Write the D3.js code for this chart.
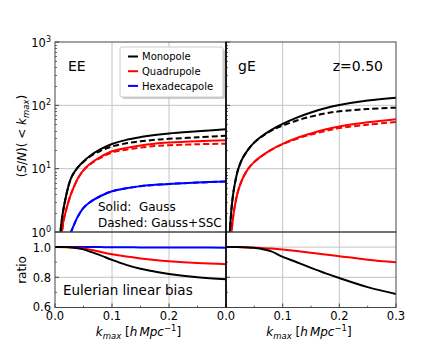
<!DOCTYPE html>
<html>
<head>
<meta charset="utf-8">
<script src="https://cdn.jsdelivr.net/npm/d3@7"></script>
<style>
  html, body { margin: 0; padding: 0; background: #fff; }
  svg { display: block; font-family: "DejaVu Sans", sans-serif; }
</style>
</head>
<body>
<svg id="chart" width="440" height="352"></svg>
<script>
// k grid for the cumulative S/N curves (h/Mpc)
const kGrid = [0.005, 0.008, 0.01, 0.0125, 0.015, 0.02, 0.025, 0.03, 0.04, 0.05, 0.06, 0.08, 0.1, 0.125, 0.15, 0.175, 0.2, 0.25, 0.3]

// EE panel
const eeMonoGauss = [0.4, 0.75, 1.1, 1.7, 2.35, 3.9, 5.9, 7.7, 10.5, 13.0, 15.6, 20.3, 24.5, 28.5, 31.5, 34, 36, 39, 42]
const eeMonoSSC = [0.4, 0.75, 1.1, 1.7, 2.35, 3.9, 5.9, 7.7, 10.45, 12.8, 15.2, 19.2, 22.4, 25.1, 27.0, 28.5, 29.6, 31.2, 33]
const eeQuadGauss = [0.3, 0.6, 0.8, 1.05, 1.5, 2.3, 3.3, 4.4, 7, 9.5, 11.6, 15.3, 18.8, 21.3, 23.3, 24.8, 25.8, 27.2, 28.2]
const eeQuadSSC = [0.3, 0.6, 0.8, 1.05, 1.5, 2.3, 3.3, 4.4, 6.95, 9.4, 11.4, 14.8, 17.9, 19.9, 21.5, 22.7, 23.4, 24.3, 24.8]
const eeHexaGauss = [0.1, 0.2, 0.25, 0.3, 0.4, 0.6, 0.85, 1.1, 1.75, 2.4, 2.9, 3.7, 4.4, 4.9, 5.3, 5.55, 5.75, 6.05, 6.3]
const eeHexaSSC = [0.1, 0.2, 0.25, 0.3, 0.4, 0.6, 0.85, 1.1, 1.75, 2.4, 2.9, 3.7, 4.4, 4.9, 5.29, 5.54, 5.74, 6.03, 6.28]

// gE panel
const geMonoGauss = [0.6, 1.5, 2.5, 3.9, 5.4, 8.8, 12, 15, 20.5, 26, 31, 41, 51, 64, 77, 90, 101, 119, 132]
const geMonoSSC = [0.6, 1.5, 2.5, 3.9, 5.4, 8.8, 12, 15, 20.5, 25.9, 30.7, 39.8, 47.7, 57.6, 66.4, 74.5, 80.3, 87.5, 92]
const geQuadGauss = [0.3, 0.7, 1.05, 1.7, 2.4, 4, 5.6, 7.2, 10.2, 12.8, 15.2, 20, 24.7, 30.5, 36, 41.5, 46.5, 54, 60.5]
const geQuadSSC = [0.3, 0.7, 1.05, 1.7, 2.4, 4, 5.6, 7.2, 10.2, 12.75, 15.1, 19.8, 24.3, 29.6, 34.6, 39.3, 43.7, 49.5, 54.5]

// ratio panels (Gauss+SSC / Gauss)
const kRatio = [0, 0.02, 0.04, 0.05, 0.06, 0.08, 0.1, 0.125, 0.15, 0.175, 0.2, 0.25, 0.3]
const eeMonoRatio = [1, 1, 0.993, 0.985, 0.972, 0.945, 0.915, 0.882, 0.857, 0.838, 0.822, 0.8, 0.787]
const eeQuadRatio = [1, 0.999, 0.994, 0.99, 0.984, 0.968, 0.952, 0.937, 0.925, 0.915, 0.907, 0.895, 0.887]
const eeHexaRatio = [1, 1, 1, 1, 1, 1, 0.999, 0.999, 0.998, 0.998, 0.997, 0.997, 0.996]
const geMonoRatio = [1, 1, 0.998, 0.995, 0.99, 0.972, 0.935, 0.9, 0.862, 0.828, 0.795, 0.735, 0.69]
const geQuadRatio = [1, 1, 0.998, 0.996, 0.994, 0.99, 0.984, 0.974, 0.962, 0.951, 0.94, 0.917, 0.9]

const xTicks = [0, 0.1, 0.2, 0.3]
const logTicks = [1, 10, 100, 1000]
const ratioTicks = [0.6, 0.8, 1.0]

const svg = d3.select('#chart')
const spine = '#444'
const gridCol = '#c4c4c4'

const top0 = 42, top1 = 232, bot1 = 307.5
const panels = [
  { id: 'ee', x0: 55, x1: 226 },
  { id: 'ge', x0: 226, x1: 396 }
]

const yLog = d3.scaleLog().domain([1, 1000]).range([top1, top0])
const yRatio = d3.scaleLinear().domain([0.6, 1.1]).range([bot1, top1])

const defs = svg.append('defs')

panels.forEach(function (p) {
  p.x = d3.scaleLinear().domain([0, 0.3]).range([p.x0, p.x1])
  defs.append('clipPath').attr('id', 'clipTop-' + p.id)
    .append('rect').attr('x', p.x0).attr('y', top0).attr('width', p.x1 - p.x0).attr('height', top1 - top0)
  defs.append('clipPath').attr('id', 'clipBot-' + p.id)
    .append('rect').attr('x', p.x0).attr('y', top1).attr('width', p.x1 - p.x0).attr('height', bot1 - top1)

  const g = svg.append('g')
  // grid lines
  g.selectAll('.vgrid').data([0.1, 0.2]).enter().append('line')
    .attr('x1', d => p.x(d)).attr('x2', d => p.x(d)).attr('y1', top0).attr('y2', bot1)
    .attr('stroke', gridCol).attr('stroke-width', 1)
  g.selectAll('.hgrid').data([10, 100]).enter().append('line')
    .attr('x1', p.x0).attr('x2', p.x1).attr('y1', d => yLog(d)).attr('y2', d => yLog(d))
    .attr('stroke', gridCol).attr('stroke-width', 1)
  g.selectAll('.rgrid').data([0.8, 1.0]).enter().append('line')
    .attr('x1', p.x0).attr('x2', p.x1).attr('y1', d => yRatio(d)).attr('y2', d => yRatio(d))
    .attr('stroke', gridCol).attr('stroke-width', 1)

  // minor + major ticks, inward
  const logMinor = []
  for (let e = 0; e < 3; e++) for (let m = 2; m < 10; m++) logMinor.push(m * Math.pow(10, e))
  g.selectAll('.lmin').data(logMinor).enter().append('line')
    .attr('x1', p.x0).attr('x2', p.x0 + 2).attr('y1', d => Math.round(yLog(d)) + 0.5).attr('y2', d => Math.round(yLog(d)) + 0.5)
    .attr('stroke', spine).attr('stroke-width', 0.8)
  g.selectAll('.lmaj').data(logTicks).enter().append('line')
    .attr('x1', p.x0).attr('x2', p.x0 + 4).attr('y1', d => yLog(d)).attr('y2', d => yLog(d))
    .attr('stroke', spine).attr('stroke-width', 1)
  g.selectAll('.rmin').data([0.7, 0.9]).enter().append('line')
    .attr('x1', p.x0).attr('x2', p.x0 + 2).attr('y1', d => yRatio(d)).attr('y2', d => yRatio(d))
    .attr('stroke', spine).attr('stroke-width', 0.8)
  g.selectAll('.rmaj').data(ratioTicks).enter().append('line')
    .attr('x1', p.x0).attr('x2', p.x0 + 4).attr('y1', d => yRatio(d)).attr('y2', d => yRatio(d))
    .attr('stroke', spine).attr('stroke-width', 1)
  g.selectAll('.xmin').data([0.05, 0.15, 0.25]).enter().append('line')
    .attr('x1', d => p.x(d)).attr('x2', d => p.x(d)).attr('y1', bot1).attr('y2', bot1 - 2)
    .attr('stroke', spine).attr('stroke-width', 0.8)
  g.selectAll('.xmaj').data(xTicks).enter().append('line')
    .attr('x1', d => p.x(d)).attr('x2', d => p.x(d)).attr('y1', bot1).attr('y2', bot1 - 4)
    .attr('stroke', spine).attr('stroke-width', 1)

  // x tick labels (left panel drops its last one; the right panel's 0.0 sits there)
  const labs = p.id === 'ee' ? xTicks.slice(0, 3) : xTicks
  g.selectAll('.xlab').data(labs).enter().append('text')
    .attr('x', d => p.x(d)).attr('y', 320)
    .attr('text-anchor', 'middle').attr('font-size', 11.5).attr('fill', '#000')
    .text(d => d.toFixed(1))

  // x axis label
  const xl = g.append('text').attr('x', (p.x0 + p.x1) / 2 - 2).attr('y', 336)
    .attr('text-anchor', 'middle').attr('font-size', 12).attr('fill', '#000')
  xl.append('tspan').attr('font-style', 'italic').text('k')
  xl.append('tspan').attr('font-style', 'italic').attr('font-size', 8.5).attr('dy', 3).text('max')
  xl.append('tspan').attr('dy', -3).text(' [')
  xl.append('tspan').attr('font-style', 'italic').text('h')
  xl.append('tspan').attr('font-style', 'italic').attr('dx', 2).text('Mpc')
  xl.append('tspan').attr('font-size', 8.5).attr('dy', -5).text('\u22121')
  xl.append('tspan').attr('dy', 5).text(']')
})

const line = function (xs, ys, xScale, yScale) {
  return d3.line().curve(d3.curveCatmullRom.alpha(0.5))
    .x((d, i) => xScale(xs[i])).y(d => yScale(Math.max(d, 0.05)))(ys)
}

function drawCurve (p, clip, xs, ys, yScale, color, dashed) {
  svg.append('path')
    .attr('clip-path', 'url(#' + clip + '-' + p.id + ')')
    .attr('d', line(xs, ys, p.x, yScale))
    .attr('fill', 'none').attr('stroke', color).attr('stroke-width', 2)
    .attr('stroke-dasharray', dashed ? '6,3' : null)
}

const ee = panels[0], ge = panels[1]
drawCurve(ee, 'clipTop', kGrid, eeHexaSSC, yLog, '#0000ff', true)
drawCurve(ee, 'clipTop', kGrid, eeHexaGauss, yLog, '#0000ff', false)
drawCurve(ee, 'clipTop', kGrid, eeQuadSSC, yLog, '#ff0000', true)
drawCurve(ee, 'clipTop', kGrid, eeQuadGauss, yLog, '#ff0000', false)
drawCurve(ee, 'clipTop', kGrid, eeMonoSSC, yLog, '#000000', true)
drawCurve(ee, 'clipTop', kGrid, eeMonoGauss, yLog, '#000000', false)
drawCurve(ge, 'clipTop', kGrid, geQuadSSC, yLog, '#ff0000', true)
drawCurve(ge, 'clipTop', kGrid, geQuadGauss, yLog, '#ff0000', false)
drawCurve(ge, 'clipTop', kGrid, geMonoSSC, yLog, '#000000', true)
drawCurve(ge, 'clipTop', kGrid, geMonoGauss, yLog, '#000000', false)

drawCurve(ee, 'clipBot', kRatio, eeHexaRatio, yRatio, '#0000ff', false)
drawCurve(ee, 'clipBot', kRatio, eeQuadRatio, yRatio, '#ff0000', false)
drawCurve(ee, 'clipBot', kRatio, eeMonoRatio, yRatio, '#000000', false)
drawCurve(ge, 'clipBot', kRatio, geQuadRatio, yRatio, '#ff0000', false)
drawCurve(ge, 'clipBot', kRatio, geMonoRatio, yRatio, '#000000', false)

// frames
panels.forEach(function (p) {
  svg.append('rect').attr('x', p.x0).attr('y', top0).attr('width', p.x1 - p.x0).attr('height', top1 - top0)
    .attr('fill', 'none').attr('stroke', spine).attr('stroke-width', 1)
  svg.append('rect').attr('x', p.x0).attr('y', top1).attr('width', p.x1 - p.x0).attr('height', bot1 - top1)
    .attr('fill', 'none').attr('stroke', spine).attr('stroke-width', 1)
})
svg.append('line').attr('x1', 226).attr('x2', 226).attr('y1', top0).attr('y2', bot1)
  .attr('stroke', '#000').attr('stroke-width', 1.5)

// y tick labels, left panel only
const ylab = svg.append('g')
ylab.selectAll('.lt').data(logTicks).enter().append('text')
  .attr('x', 51).attr('y', d => yLog(d) + 4.5)
  .attr('text-anchor', 'end').attr('font-size', 11.5).attr('fill', '#000')
  .each(function (d) {
    const t = d3.select(this)
    t.append('tspan').text('10')
    t.append('tspan').attr('font-size', 8).attr('dy', -5).text(Math.round(Math.log10(d)))
  })
ylab.selectAll('.rt').data(ratioTicks).enter().append('text')
  .attr('x', 51).attr('y', d => yRatio(d) + (d === 0.6 ? 3 : 4.5))
  .attr('text-anchor', 'end').attr('font-size', 11.5).attr('fill', '#000')
  .text(d => d.toFixed(1))

// y axis labels
const yl = svg.append('text').attr('transform', 'translate(26,136) rotate(-90)')
  .attr('text-anchor', 'middle').attr('font-size', 12).attr('fill', '#000')
yl.append('tspan').text('(')
yl.append('tspan').attr('font-style', 'italic').text('S')
yl.append('tspan').text('/')
yl.append('tspan').attr('font-style', 'italic').text('N')
yl.append('tspan').text(')( < ')
yl.append('tspan').attr('font-style', 'italic').text('k')
yl.append('tspan').attr('font-style', 'italic').attr('font-size', 8.5).attr('dy', 3).text('max')
yl.append('tspan').attr('dy', -3).text(')')

svg.append('text').attr('transform', 'translate(26,270) rotate(-90)')
  .attr('text-anchor', 'middle').attr('font-size', 12).attr('fill', '#000').text('ratio')

// panel annotations
svg.append('text').attr('x', 68).attr('y', 71).attr('font-size', 14).text('EE')
svg.append('text').attr('x', 238).attr('y', 71).attr('font-size', 14).text('gE')
svg.append('text').attr('x', 383).attr('y', 71).attr('text-anchor', 'end').attr('font-size', 14).text('z=0.50')
svg.append('text').attr('x', 98).attr('y', 211).attr('font-size', 12).attr('xml:space', 'preserve').text('Solid:  Gauss')
svg.append('text').attr('x', 98).attr('y', 227).attr('font-size', 12).text('Dashed: Gauss+SSC')
svg.append('text').attr('x', 63).attr('y', 295).attr('font-size', 13.5).text('Eulerian linear bias')

// legend
const legendNames = ['Monopole', 'Quadrupole', 'Hexadecapole']
const legendColors = ['#000000', '#ff0000', '#0000ff']
const lg = svg.append('g').attr('transform', 'translate(120,47)')
lg.append('rect').attr('x', 2).attr('y', 2).attr('width', 103).attr('height', 50).attr('rx', 2)
  .attr('fill', '#999').attr('opacity', 0.5)
lg.append('rect').attr('x', 0).attr('y', 0).attr('width', 103).attr('height', 50).attr('rx', 2)
  .attr('fill', '#fff').attr('stroke', '#ccc').attr('stroke-width', 1)
legendNames.forEach(function (name, i) {
  const y = 9.5 + i * 14.7
  lg.append('line').attr('x1', 8).attr('x2', 18).attr('y1', y).attr('y2', y)
    .attr('stroke', legendColors[i]).attr('stroke-width', 2)
  lg.append('text').attr('x', 22).attr('y', y + 3.6).attr('font-size', 10).text(name)
})
</script>
</body>
</html>
